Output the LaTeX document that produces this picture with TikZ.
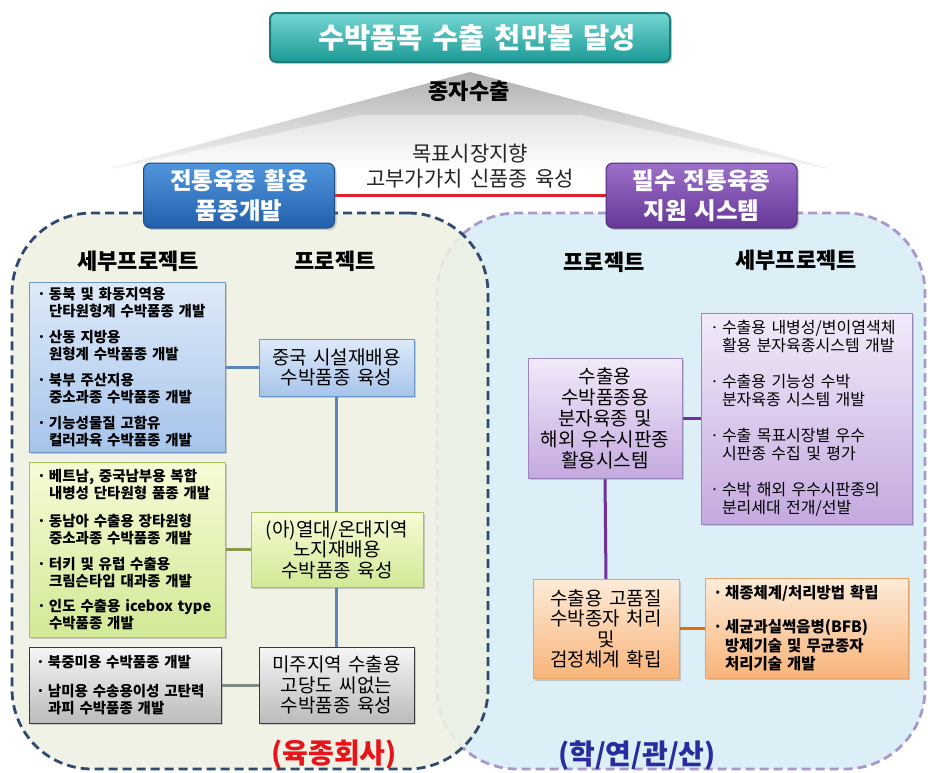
\documentclass[tikz,border=0pt]{standalone}
\usepackage{fontspec}
\setmainfont{Noto Sans CJK KR}[WordSpace=1.5]
\usetikzlibrary{shadows,backgrounds}
\pgfdeclarelayer{regions}
\pgfdeclarelayer{lines}
\pgfsetlayers{regions,lines,main}
\definecolor{navy}{HTML}{2E4A6E}
\definecolor{lav}{HTML}{A898CC}
\definecolor{leftfill}{HTML}{EEF1E2}
\definecolor{rightfill}{HTML}{DDEFF6}
\definecolor{tealtop}{HTML}{74D6D2}
\definecolor{tealbot}{HTML}{1C9A96}
\definecolor{tealedge}{HTML}{1E7C79}
\definecolor{hbtop}{HTML}{5096DC}
\definecolor{hbbot}{HTML}{2260AC}
\definecolor{hbedge}{HTML}{1E4D86}
\definecolor{hptop}{HTML}{9C70C9}
\definecolor{hpbot}{HTML}{663898}
\definecolor{hpedge}{HTML}{4E2A7A}
\definecolor{sbtop}{HTML}{DEEAF9}
\definecolor{sbbot}{HTML}{A6C4EB}
\definecolor{sbedge}{HTML}{6E97CC}
\definecolor{sgtop}{HTML}{F6FBD6}
\definecolor{sgbot}{HTML}{D2E996}
\definecolor{sgedge}{HTML}{A6C25C}
\definecolor{sytop}{HTML}{F6F6F6}
\definecolor{sybot}{HTML}{BBBBBB}
\definecolor{syedge}{HTML}{3A3A3A}
\definecolor{sptop}{HTML}{F2EAF9}
\definecolor{spbot}{HTML}{C4A9DF}
\definecolor{spedge}{HTML}{9A86BC}
\definecolor{sotop}{HTML}{FDEBD8}
\definecolor{sobot}{HTML}{F8B47A}
\definecolor{soedge}{HTML}{E8A468}
\definecolor{conblue}{HTML}{5A86BF}
\definecolor{congreen}{HTML}{8A9A4A}
\definecolor{congrey}{HTML}{7F8A80}
\definecolor{conpurple}{HTML}{7030A0}
\definecolor{conorange}{HTML}{E36C0A}
\definecolor{conred}{HTML}{E0202A}
\definecolor{labred}{HTML}{E8141B}
\definecolor{labblue}{HTML}{2B2BA0}
\newcommand\bul{\makebox[12pt][l]{·}}
\newcommand\ind{\hspace*{12pt}}
\begin{document}
\begin{tikzpicture}[x=1pt,y=-1pt,
  every node/.style={inner sep=0pt,outer sep=0pt},
  shadowed/.style={drop shadow={opacity=0.35,shadow xshift=2pt,shadow yshift=-2pt}},
  region/.style={line width=2.8pt,dash pattern=on 9pt off 5pt,rounded corners=80pt},
  hdrbox/.style={shadowed,draw,rounded corners=7pt,line width=1pt,text=white,align=center,
    font=\bfseries\fontsize{23.5}{30}\selectfont,minimum width=191pt,minimum height=65pt},
  colhead/.style={font=\bfseries\fontsize{22}{26}\selectfont},
  subbox/.style={shadowed,draw,line width=0.8pt,align=left},
  projbox/.style={shadowed,draw,line width=0.8pt,align=center,font=\fontsize{19}{20.5}\selectfont},
  subfontb/.style={font=\bfseries\fontsize{14.5}{16.5}\selectfont},
  subfontr/.style={font=\fontsize{16}{18.5}\selectfont},
  blues/.style={top color=sbtop,bottom color=sbbot,draw=sbedge},
  greens/.style={top color=sgtop,bottom color=sgbot,draw=sgedge},
  greys/.style={top color=sytop,bottom color=sybot,draw=syedge},
  purples/.style={top color=sptop,bottom color=spbot,draw=spedge},
  oranges/.style={top color=sotop,bottom color=sobot,draw=soedge},
  con/.style={line width=3pt},
  bottomlabel/.style={font=\bfseries\fontsize{28}{32}\selectfont}
]
\useasboundingbox (0,0) rectangle (928,772);

\begin{pgfonlayer}{regions}
  \fill[white] (0,0) rectangle (928,772);
  \node[region,draw=lav,fill=rightfill,minimum width=488pt,minimum height=556pt] (rightreg) at (681,491) {};
  \node[region,draw=navy,fill=leftfill,fill opacity=0.88,draw opacity=1,minimum width=476pt,minimum height=556pt] (leftreg) at (250,491) {};
  % roof
  \shade[top color=gray!62,bottom color=gray!8] (470,72) -- (830,168) -- (110,168) -- cycle;
  \shade[top color=gray!22,bottom color=white] (360,115) -- (580,115) -- (832,170) -- (108,170) -- cycle;
\end{pgfonlayer}

% title
\node[shadowed,draw=tealedge,line width=2pt,rounded corners=6pt,top color=tealtop,bottom color=tealbot,
  minimum width=400pt,minimum height=49pt,text=white,font=\bfseries\fontsize{28.5}{32}\selectfont] (title) at (470,37.5) {\hspace*{14pt}수박품목 수출 천만불 달성};
\node[font=\bfseries\fontsize{22}{26}\selectfont] (seed) at (469,91) {종자수출};
\node[align=center,font=\fontsize{21}{25}\selectfont,text=black!85] (goal) at (470,166.5) {목표시장지향\\고부가가치 신품종 육성};

% header boxes
\node[hdrbox,top color=hbtop,bottom color=hbbot,draw=hbedge] (hl) at (239,195.5) {전통육종 활용\\품종개발};
\node[hdrbox,top color=hptop,bottom color=hpbot,draw=hpedge] (hr) at (701.5,195.5) {필수 전통육종\\지원 시스템};

% column heads
\node[colhead] (lsub) at (138,261) {세부프로젝트};
\node[colhead] (lproj) at (335,261) {프로젝트};
\node[colhead] (rproj) at (604,262) {프로젝트};
\node[colhead] (rsub) at (796,260) {세부프로젝트};

% left sub-project boxes
\node[subbox,blues,subfontb,minimum width=196pt,minimum height=170pt,text width=180pt] (sb1) at (127,367)
 {\bul 동북 및 화동지역용\\\ind 단타원형계 수박품종 개발\\[10pt]\bul 산동 지방용\\\ind 원형계 수박품종 개발\\[10pt]\bul 북부 주산지용\\\ind 중소과종 수박품종 개발\\[10pt]\bul 기능성물질 고함유\\\ind 컬러과육 수박품종 개발};
\node[subbox,greens,subfontb,minimum width=196pt,minimum height=175pt,text width=180pt] (sb2) at (127,549.5)
 {\bul 베트남, 중국남부용 복합\\\ind 내병성 단타원형 품종 개발\\[12pt]\bul 동남아 수출용 장타원형\\\ind 중소과종 수박품종 개발\\[10pt]\bul 터키 및 유럽 수출용\\\ind 크림슨타입 대과종 개발\\[9pt]\bul 인도 수출용 icebox type\\\ind 수박품종 개발};
\node[subbox,greys,subfontb,minimum width=192pt,minimum height=76pt,text width=178pt] (sb3) at (125,685)
 {\bul 북중미용 수박품종 개발\\[13pt]\bul 남미용 수송용이성 고탄력\\\ind 과피 수박품종 개발};

% left project boxes
\node[projbox,blues,minimum width=155pt,minimum height=57pt] (p1) at (336.5,367.5) {중국 시설재배용\\수박품종 육성};
\node[projbox,greens,minimum width=172pt,minimum height=75pt] (p2) at (337,549.5) {(아)열대/온대지역\\노지재배용\\수박품종 육성};
\node[projbox,greys,minimum width=155pt,minimum height=76pt] (p3) at (336.5,685) {미주지역 수출용\\고당도 씨없는\\수박품종 육성};

% right boxes
\node[projbox,purples,minimum width=154pt,minimum height=120pt,font=\fontsize{19}{21}\selectfont] (rp1) at (605,418)
 {수출용\\수박품종용\\분자육종 및\\해외 우수시판종\\활용시스템};
\node[subbox,purples,subfontr,minimum width=211pt,minimum height=211pt,text width=193pt] (rs1) at (806.5,418.5)
 {\bul 수출용 내병성/변이염색체\\\ind 활용 분자육종시스템 개발\\[17pt]\bul 수출용 기능성 수박\\\ind 분자육종 시스템 개발\\[17pt]\bul 수출 목표시장별 우수\\\ind 시판종 수집 및 평가\\[17pt]\bul 수박 해외 우수시판종의\\\ind 분리세대 전개/선발};
\node[projbox,oranges,minimum width=146pt,minimum height=99pt] (rp2) at (606,629)
 {수출용 고품질\\수박종자 처리\\및\\검정체계 확립};
\node[subbox,oranges,font=\bfseries\fontsize{15.5}{18.5}\selectfont,minimum width=203pt,minimum height=100pt,text width=187pt] (rs2) at (806.5,628)
 {\bul 채종체계/처리방법 확립\\[16pt]\bul 세균과실썩음병(BFB)\\\ind 방제기술 및 무균종자\\\ind 처리기술 개발};

% bottom labels
\node[bottomlabel,text=labred] (lab1) at (334,755) {(육종회사)};
\node[bottomlabel,text=labblue] (lab2) at (637,755) {(학/연/관/산)};

% connectors
\begin{pgfonlayer}{lines}
  \draw[con,conred] (hl.east) -- (hr.west);
  \draw[con,conblue] (p1.south) -- (p3.north);
  \draw[con,conblue] (p1.west) -- (p1.west -| sb1.east);
  \draw[con,congreen] (p2.west) -- (p2.west -| sb2.east);
  \draw[con,congrey] (p3.west) -- (p3.west -| sb3.east);
  \draw[con,conpurple] (rp1.east) -- (rp1.east -| rs1.west);
  \draw[con,conpurple] (rp1.south) -- (rp2.north);
  \draw[con,conorange] (rs2.west) -- (rs2.west -| rp2.east);
\end{pgfonlayer}
\end{tikzpicture}
\end{document}
